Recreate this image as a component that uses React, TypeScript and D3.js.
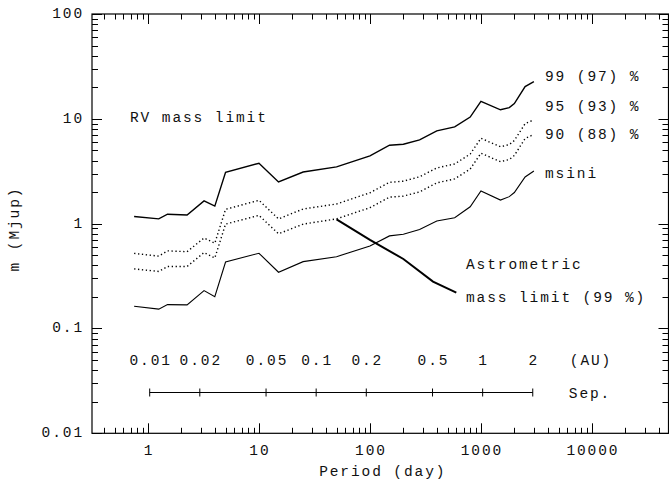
import { useEffect, useRef } from 'react';
import * as d3 from 'd3';

const W = 669;
const H = 487;

// period grid (days) shared by the RV curves
const periods = [0.75, 1.25, 1.5, 2.25, 3.2, 4, 5, 10, 15, 25, 50, 100, 150, 200, 280, 400, 580, 800, 1000, 1500, 1800, 2000, 2500, 3000];
const mass99 = [1.17, 1.11, 1.23, 1.21, 1.65, 1.47, 3.09, 3.77, 2.5, 3.11, 3.48, 4.43, 5.6, 5.72, 6.3, 7.67, 8.37, 10.4, 14.7, 12.2, 12.8, 14.0, 20.3, 22.6];
const mass95 = [0.52, 0.49, 0.55, 0.54, 0.73, 0.65, 1.37, 1.67, 1.11, 1.38, 1.54, 1.97, 2.48, 2.54, 2.8, 3.4, 3.71, 4.61, 6.52, 5.41, 5.68, 6.21, 9.0, 9.8];
const mass90 = [0.37, 0.35, 0.39, 0.39, 0.53, 0.47, 0.99, 1.2, 0.8, 0.99, 1.11, 1.42, 1.79, 1.83, 2.01, 2.45, 2.67, 3.32, 4.7, 3.9, 4.09, 4.47, 6.49, 7.1];
const massMsini = [0.163, 0.153, 0.169, 0.168, 0.23, 0.201, 0.431, 0.522, 0.344, 0.434, 0.484, 0.613, 0.764, 0.792, 0.88, 1.06, 1.14, 1.45, 2.05, 1.68, 1.81, 1.98, 2.79, 3.18];

// astrometric 99% limit
const astroPeriods = [50, 100, 200, 370, 600];
const astroMass = [1.1, 0.7, 0.46, 0.28, 0.22];

// separation scale
const auValues = [0.01, 0.02, 0.05, 0.1, 0.2, 0.5, 1, 2];
const auLabels = ['0.01', '0.02', '0.05', '0.1', '0.2', '0.5', '1', '2'];
const periodAt1AU = 1036;

const xTicks = [1, 10, 100, 1000, 10000];
const xTickLabels = ['1', '10', '100', '1000', '10000'];
const yTicks = [0.01, 0.1, 1, 10, 100];
const yTickLabels = ['0.01', '0.1', '1', '10', '100'];

const curveLabels = ['99 (97) %', '95 (93) %', '90 (88) %', 'msini'];

const FONT = '"Liberation Mono", "DejaVu Sans Mono", monospace';

export default function App() {
  const svgRef = useRef<SVGSVGElement>(null);

  useEffect(() => {
    if (!svgRef.current) return;
    const svg = d3.select(svgRef.current);
    svg.selectAll('*').remove();

    const left = 92, right = 669.5, top = 14, bottom = 433.3;
    const x = d3.scaleLog().domain([0.313, 50000]).range([left, right]);
    const y = d3.scaleLog().domain([0.01, 100]).range([bottom, top]);

    svg.append('rect').attr('width', W).attr('height', H).attr('fill', '#fff');

    const text = (tx: number, ty: number, s: string, anchor = 'start') =>
      svg.append('text')
        .attr('x', tx)
        .attr('y', ty)
        .attr('text-anchor', anchor)
        .attr('dominant-baseline', 'central')
        .attr('font-family', FONT)
        .attr('font-size', '14.5px')
        .attr('letter-spacing', '1.9px')
        .attr('fill', '#111')
        .text(s);

    // frame
    svg.append('rect')
      .attr('x', left).attr('y', top)
      .attr('width', right - left - 1).attr('height', bottom - top)
      .attr('fill', 'none').attr('stroke', '#000').attr('stroke-width', 1.2);

    // x ticks (bottom + top), minor 2..9
    const xMinor: number[] = [];
    for (let e = -1; e <= 4; e++) for (let k = 1; k <= 9; k++) {
      const v = k * Math.pow(10, e);
      if (v >= 0.313 && v <= 50000) xMinor.push(v);
    }
    xMinor.forEach(v => {
      const major = xTicks.includes(v);
      const len = major ? 10 : 5.5;
      const px = Math.round(x(v)) + 0.5;
      svg.append('line').attr('x1', px).attr('x2', px).attr('y1', bottom).attr('y2', bottom - len)
        .attr('stroke', '#000').attr('stroke-width', 1);
      svg.append('line').attr('x1', px).attr('x2', px).attr('y1', top).attr('y2', top + len)
        .attr('stroke', '#000').attr('stroke-width', 1);
    });

    // y ticks (left + right)
    const yMinor: number[] = [];
    for (let e = -2; e <= 1; e++) for (let k = 1; k <= 9; k++) yMinor.push(k * Math.pow(10, e));
    yMinor.push(100);
    yMinor.forEach(v => {
      const major = yTicks.includes(v);
      const len = major ? 10 : 6;
      const py = Math.round(y(v)) + 0.5;
      svg.append('line').attr('x1', left).attr('x2', left + len).attr('y1', py).attr('y2', py)
        .attr('stroke', '#000').attr('stroke-width', 1);
      svg.append('line').attr('x1', right - 1).attr('x2', right - 1 - len).attr('y1', py).attr('y2', py)
        .attr('stroke', '#000').attr('stroke-width', 1);
    });

    xTicks.forEach((v, i) => text(x(v) + 1, 451, xTickLabels[i], 'middle'));
    yTicks.forEach((v, i) => text(84, y(v), yTickLabels[i], 'end'));

    text((left + right) / 2 + 2, 472, 'Period (day)', 'middle');
    svg.append('text')
      .attr('transform', `translate(15, 229) rotate(-90)`)
      .attr('text-anchor', 'middle')
      .attr('dominant-baseline', 'central')
      .attr('font-family', FONT)
      .attr('font-size', '14.5px')
      .attr('letter-spacing', '1.9px')
      .attr('fill', '#111')
      .text('m (Mjup)');

    const line = d3.line<[number, number]>()
      .x(d => x(d[0]))
      .y(d => y(d[1]));

    const series = [
      { m: mass99, dash: null, w: 1.4 },
      { m: mass95, dash: '1.3 2.6', w: 1.4 },
      { m: mass90, dash: '1.3 2.6', w: 1.4 },
      { m: massMsini, dash: null, w: 1.1 },
    ];
    series.forEach(s => {
      const p = svg.append('path')
        .attr('d', line(periods.map((pv, i) => [pv, s.m[i]] as [number, number])) || '')
        .attr('fill', 'none')
        .attr('stroke', '#000')
        .attr('stroke-width', s.w);
      if (s.dash) p.attr('stroke-dasharray', s.dash);
    });

    svg.append('path')
      .attr('d', line(astroPeriods.map((pv, i) => [pv, astroMass[i]] as [number, number])) || '')
      .attr('fill', 'none')
      .attr('stroke', '#000')
      .attr('stroke-width', 2);

    // curve labels
    const labelY = [77, 106.5, 135, 173.5];
    curveLabels.forEach((s, i) => text(545, labelY[i], s));
    text(130, 118, 'RV mass limit');
    text(466, 265, 'Astrometric');
    text(466, 298, 'mass limit (99 %)');

    // separation axis
    const sepY = 392.5;
    const auX = auValues.map(a => x(periodAt1AU * Math.pow(a, 1.5)));
    svg.append('line')
      .attr('x1', auX[0]).attr('x2', auX[auX.length - 1])
      .attr('y1', sepY).attr('y2', sepY)
      .attr('stroke', '#000').attr('stroke-width', 1.2);
    auX.forEach((px, i) => {
      svg.append('line').attr('x1', px).attr('x2', px).attr('y1', sepY - 4).attr('y2', sepY + 4)
        .attr('stroke', '#000').attr('stroke-width', 1);
      text(px + 1, 361, auLabels[i], 'middle');
    });
    text(591, 361, '(AU)', 'middle');
    text(590, 394, 'Sep.', 'middle');
  }, []);

  return (
    <div style={{ position: 'fixed', left: 0, top: 0 }}>
      <svg ref={svgRef} width={W} height={H} viewBox={`0 0 ${W} ${H}`} style={{ display: 'block' }} />
    </div>
  );
}
